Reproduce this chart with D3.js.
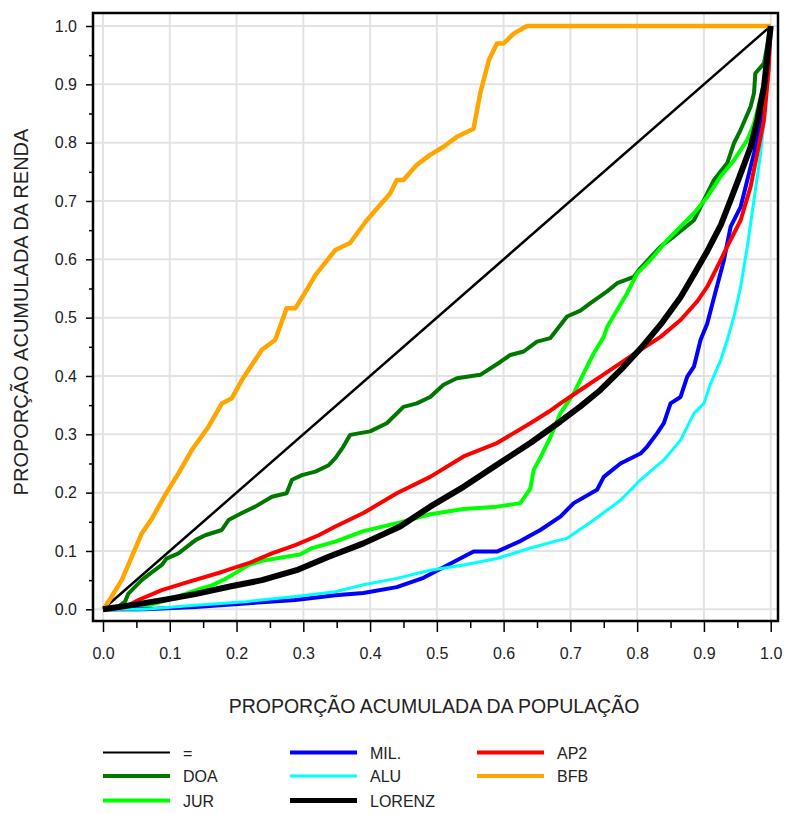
<!DOCTYPE html>
<html><head><meta charset="utf-8">
<script src="https://cdn.jsdelivr.net/npm/d3@7"></script>
<style>body{margin:0;background:#fff}svg{display:block}text{font-family:"Liberation Sans",Arial,sans-serif;fill:#222}</style>
</head><body><svg id="c" width="786" height="814"></svg>
<script>
const tickValues = [0,0.1,0.2,0.3,0.4,0.5,0.6,0.7,0.8,0.9,1.0];
const minorTicks = [0.05,0.15,0.25,0.35,0.45,0.55,0.65,0.75,0.85,0.95];
const xTitle = "PROPORÇÃO ACUMULADA DA POPULAÇÃO";
const yTitle = "PROPORÇÃO ACUMULADA DA RENDA";
const seriesNames = ["=","DOA","JUR","MIL.","ALU","LORENZ","AP2","BFB"];
const seriesColors = ["#000000","#007800","#00ff00","#0000ff","#00ffff","#000000","#ff0000","#ffa500"];

const eqLine = [[0,0],[1,1]];
const doa = [[0,0],[0.018,0],[0.033,0.013],[0.038,0.027],[0.058,0.05],[0.068,0.059],[0.088,0.076],[0.095,0.087],[0.113,0.096],[0.139,0.119],[0.153,0.127],[0.178,0.136],[0.188,0.153],[0.208,0.165],[0.228,0.176],[0.253,0.193],[0.275,0.199],[0.283,0.222],[0.298,0.230],[0.318,0.236],[0.338,0.247],[0.348,0.259],[0.36,0.279],[0.37,0.299],[0.40,0.305],[0.425,0.319],[0.45,0.347],[0.47,0.353],[0.49,0.364],[0.51,0.385],[0.53,0.396],[0.565,0.402],[0.595,0.424],[0.61,0.436],[0.63,0.442],[0.65,0.459],[0.67,0.465],[0.695,0.502],[0.715,0.512],[0.73,0.525],[0.755,0.545],[0.77,0.559],[0.795,0.570],[0.805,0.585],[0.835,0.622],[0.855,0.639],[0.885,0.667],[0.915,0.736],[0.935,0.765],[0.945,0.799],[0.955,0.822],[0.97,0.862],[0.975,0.885],[0.977,0.919],[0.99,0.936],[1,1]];
const jur = [[0,0],[0.053,0],[0.078,0.01],[0.113,0.022],[0.145,0.035],[0.163,0.041],[0.183,0.052],[0.198,0.062],[0.218,0.076],[0.238,0.083],[0.263,0.088],[0.295,0.094],[0.313,0.105],[0.348,0.116],[0.39,0.134],[0.445,0.149],[0.49,0.163],[0.54,0.172],[0.59,0.176],[0.625,0.182],[0.64,0.207],[0.645,0.239],[0.655,0.26],[0.67,0.295],[0.685,0.336],[0.705,0.37],[0.72,0.405],[0.735,0.439],[0.75,0.467],[0.755,0.484],[0.77,0.513],[0.785,0.542],[0.80,0.576],[0.82,0.599],[0.845,0.633],[0.865,0.656],[0.885,0.679],[0.905,0.707],[0.925,0.742],[0.945,0.770],[0.965,0.805],[0.975,0.833],[0.99,0.9],[1,1]];
const mil = [[0,0],[0.063,0],[0.138,0.004],[0.213,0.010],[0.288,0.016],[0.348,0.024],[0.39,0.028],[0.44,0.038],[0.48,0.054],[0.515,0.075],[0.555,0.099],[0.59,0.099],[0.625,0.117],[0.655,0.136],[0.685,0.159],[0.705,0.182],[0.74,0.205],[0.75,0.227],[0.775,0.250],[0.805,0.267],[0.815,0.279],[0.83,0.302],[0.84,0.319],[0.85,0.353],[0.865,0.364],[0.875,0.399],[0.885,0.416],[0.895,0.462],[0.905,0.49],[0.915,0.534],[0.93,0.599],[0.94,0.656],[0.955,0.690],[0.965,0.736],[0.975,0.782],[0.985,0.839],[0.995,0.925],[1,1]];
const alu = [[0,0],[0.063,0],[0.138,0.007],[0.213,0.013],[0.288,0.022],[0.348,0.030],[0.39,0.042],[0.44,0.053],[0.49,0.067],[0.54,0.076],[0.59,0.087],[0.64,0.105],[0.695,0.122],[0.735,0.153],[0.775,0.187],[0.805,0.222],[0.84,0.256],[0.865,0.290],[0.885,0.336],[0.9,0.353],[0.91,0.387],[0.925,0.427],[0.935,0.462],[0.945,0.502],[0.955,0.553],[0.965,0.622],[0.975,0.702],[0.985,0.782],[0.99,0.839],[0.997,0.925],[1,1]];
const lorenz = [[0,0],[0.048,0.008],[0.095,0.017],[0.138,0.026],[0.19,0.039],[0.238,0.05],[0.29,0.067],[0.338,0.09],[0.39,0.113],[0.445,0.142],[0.49,0.176],[0.54,0.210],[0.59,0.248],[0.64,0.285],[0.685,0.322],[0.715,0.348],[0.745,0.376],[0.775,0.41],[0.805,0.447],[0.835,0.488],[0.865,0.535],[0.885,0.574],[0.905,0.614],[0.925,0.658],[0.94,0.702],[0.955,0.747],[0.97,0.793],[0.98,0.839],[0.99,0.896],[1,1]];
const ap2 = [[0,0],[0.033,0.004],[0.053,0.016],[0.088,0.033],[0.128,0.047],[0.178,0.064],[0.218,0.079],[0.253,0.096],[0.288,0.110],[0.323,0.127],[0.348,0.142],[0.39,0.165],[0.44,0.199],[0.49,0.227],[0.54,0.262],[0.59,0.285],[0.64,0.319],[0.668,0.339],[0.685,0.353],[0.715,0.376],[0.745,0.399],[0.775,0.422],[0.805,0.445],[0.835,0.467],[0.865,0.496],[0.89,0.528],[0.905,0.553],[0.92,0.587],[0.935,0.622],[0.955,0.667],[0.97,0.725],[0.98,0.782],[0.99,0.839],[0.997,0.925],[1,1]];
const bfb = [[0,0],[0.003,0.004],[0.013,0.022],[0.028,0.05],[0.043,0.09],[0.058,0.13],[0.073,0.155],[0.093,0.196],[0.113,0.233],[0.133,0.273],[0.158,0.313],[0.178,0.353],[0.193,0.362],[0.208,0.393],[0.238,0.445],[0.258,0.462],[0.275,0.516],[0.288,0.516],[0.308,0.553],[0.318,0.573],[0.348,0.616],[0.37,0.628],[0.395,0.667],[0.43,0.713],[0.44,0.736],[0.45,0.736],[0.47,0.762],[0.49,0.779],[0.51,0.793],[0.53,0.81],[0.555,0.824],[0.565,0.885],[0.578,0.942],[0.59,0.97],[0.60,0.97],[0.615,0.987],[0.635,1],[1,1]];

const seriesData = [eqLine, doa, jur, mil, alu, lorenz, ap2, bfb];
const lineWidths = [2.5, 4, 4, 4, 3, 6, 4, 4.5];
const legendWidths = [2, 4, 4, 4, 3, 5, 4, 4];
const drawOrder = [0,1,2,3,4,6,7,5];

const svg = d3.select("#c");
const frame = {l:93, t:13, r:778, b:621};
const x = d3.scaleLinear().domain([0,1]).range([103,770.7]);
const y = d3.scaleLinear().domain([0,1]).range([609.3,26]);

// grid
const g = svg.append("g");
g.selectAll(".gx").data(tickValues).join("line")
  .attr("x1",d=>x(d)).attr("x2",d=>x(d)).attr("y1",frame.t).attr("y2",frame.b)
  .attr("stroke","#e3e3e3").attr("stroke-width",2);
g.selectAll(".gy").data(tickValues).join("line").attr("class","gy")
  .attr("y1",d=>y(d)).attr("y2",d=>y(d)).attr("x1",frame.l).attr("x2",frame.r)
  .attr("stroke","#e3e3e3").attr("stroke-width",2);

// axes
const xAxis = d3.axisBottom(x).tickValues(tickValues).tickFormat(d3.format(".1f")).tickSize(11).tickPadding(16);
const ax = svg.append("g").attr("transform",`translate(0,${frame.b})`).call(xAxis);
ax.select(".domain").remove();
ax.selectAll(".tick line").attr("stroke","#000").attr("stroke-width",1.5);
ax.selectAll("text").style("font-size","16px").attr("fill","#222");
const xMinor = d3.axisBottom(x).tickValues(minorTicks).tickFormat("").tickSize(7);
const axm = svg.append("g").attr("transform",`translate(0,${frame.b})`).call(xMinor);
axm.select(".domain").remove();
axm.selectAll(".tick line").attr("stroke","#000").attr("stroke-width",1.5);

const yAxis = d3.axisLeft(y).tickValues(tickValues).tickFormat(d3.format(".1f")).tickSize(7).tickPadding(9);
const ay = svg.append("g").attr("transform",`translate(${frame.l},0)`).call(yAxis);
ay.select(".domain").remove();
ay.selectAll(".tick line").attr("stroke","#000").attr("stroke-width",1.5);
ay.selectAll("text").style("font-size","16px").attr("fill","#222");
const yMinor = d3.axisLeft(y).tickValues(minorTicks).tickFormat("").tickSize(4);
const aym = svg.append("g").attr("transform",`translate(${frame.l},0)`).call(yMinor);
aym.select(".domain").remove();
aym.selectAll(".tick line").attr("stroke","#000").attr("stroke-width",1.5);

// lines
const line = d3.line().x(d=>x(d[0])).y(d=>y(d[1]));
drawOrder.forEach(i=>{
  svg.append("path").datum(seriesData[i]).attr("d",line)
    .attr("fill","none").attr("stroke",seriesColors[i]).attr("stroke-width",lineWidths[i])
    .attr("stroke-linejoin","round");
});

// frame
svg.append("rect").attr("x",frame.l).attr("y",frame.t).attr("width",frame.r-frame.l).attr("height",frame.b-frame.t)
  .attr("fill","none").attr("stroke","#000").attr("stroke-width",2.5);

// titles
svg.append("text").attr("x",434).attr("y",713).attr("text-anchor","middle").style("font-size","19.5px").text(xTitle);
svg.append("text").attr("transform","translate(28,312) rotate(-90)").attr("text-anchor","middle").style("font-size","20px").text(yTitle);

// legend
const colX = [103,290,477];
const rowY = [752.5,776,800.5];
seriesNames.forEach((n,i)=>{
  const c = Math.floor(i/3), r = i%3;
  const lg = svg.append("g").attr("transform",`translate(${colX[c]},${rowY[r]})`);
  lg.append("line").attr("x1",0).attr("x2",67).attr("y1",0).attr("y2",0)
    .attr("stroke",seriesColors[i]).attr("stroke-width",legendWidths[i]);
  lg.append("text").attr("x",80).attr("y",6).style("font-size","16px").text(n);
});
</script></body></html>
